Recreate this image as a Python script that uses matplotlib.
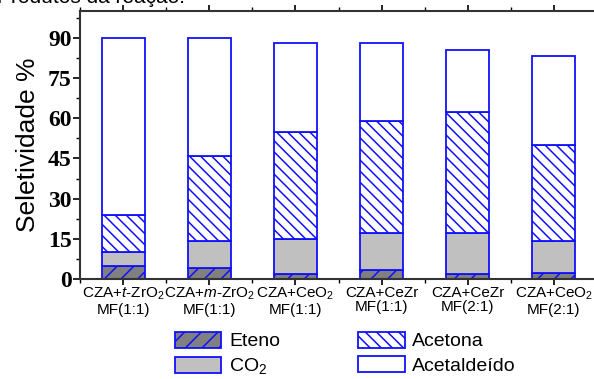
import matplotlib
matplotlib.use("Agg")
import matplotlib.pyplot as plt
from matplotlib.ticker import MultipleLocator
import numpy as np

# ── Data ─────────────────────────────────────────────────────────
categories = [
    "CZA+$t$-ZrO$_2$\nMF(1:1)",
    "CZA+$m$-ZrO$_2$\nMF(1:1)",
    "CZA+CeO$_2$\nMF(1:1)",
    "CZA+CeZr\nMF(1:1)",
    "CZA+CeZr\nMF(2:1)",
    "CZA+CeO$_2$\nMF(2:1)",
]
eteno       = [5.0, 4.0, 2.0, 3.3, 1.9, 2.1]
co2         = [5.0, 10.0, 13.0, 14.0, 15.4, 12.0]
acetona     = [14.0, 32.0, 40.0, 41.7, 45.0, 36.0]
acetaldeido = [66.0, 44.0, 33.0, 29.0, 23.0, 33.0]
yticks      = [0, 15, 30, 45, 60, 75, 90]

# ── Style ────────────────────────────────────────────────────────
BLUE = "#1010ff"
plt.rcParams.update({
    "font.family": "Liberation Sans",
    "mathtext.fontset": "custom",
    "mathtext.rm": "Liberation Sans",
    "mathtext.it": "Liberation Sans:italic",
    "hatch.linewidth": 1.1,
})

fig = plt.figure(figsize=(5.94, 3.79), dpi=100)
ax = fig.add_axes([80 / 594, 100 / 379, 517 / 594, 268 / 379])

x = np.arange(1, len(categories) + 1)
w = 0.5
bottom = np.zeros(len(x))
series = [
    (eteno,       "Eteno",       "#808080", "//"),
    (co2,         "CO$_2$",      "#c0c0c0", None),
    (acetona,     "Acetona",     "white",   "\\\\\\"),
    (acetaldeido, "Acetaldeído", "white",   None),
]
handles = []
for vals, lab, fc, hatch in series:
    b = ax.bar(x, vals, w, bottom=bottom, color=fc, edgecolor=BLUE,
               linewidth=1.3, hatch=hatch, label=lab)
    handles.append(b)
    bottom += np.array(vals)

ax.set_xlim(0.5, 6.5)
ax.set_ylim(0, 100)
ax.set_xticks(x)
ax.set_xticklabels(categories, fontsize=11, linespacing=1.05)
ax.xaxis.set_minor_locator(MultipleLocator(0.5))
ax.set_yticks(yticks)
ax.yaxis.set_minor_locator(MultipleLocator(7.5))
for t in ax.get_yticklabels():
    t.set_fontfamily("Liberation Serif")
    t.set_fontweight("bold")
    t.set_fontsize(17)

ax.tick_params(axis="y", which="major", direction="out", length=5, width=1.2, pad=1)
ax.tick_params(axis="y", which="minor", direction="out", length=3, width=1.0)
ax.tick_params(axis="x", which="major", direction="out", length=4, width=1.2,
               pad=1, top=True)
ax.tick_params(axis="x", which="minor", direction="out", length=3, width=1.0, top=True)

for side in ["left", "bottom", "top", "right"]:
    ax.spines[side].set_color("#333333")
    ax.spines[side].set_linewidth(1.5)

ax.set_ylabel("Seletividade %", fontsize=19, labelpad=6)

fig.legend(handles=handles,
           labels=["Eteno", "CO$_2$", "Acetona", "Acetaldeído"],
           ncol=2, loc="upper left", bbox_to_anchor=(165 / 594, 1 - 322 / 379),
           frameon=False, fontsize=14, borderpad=0, handlelength=2.4,
           handleheight=0.9, handletextpad=0.4, columnspacing=4.0,
           labelspacing=0.3)

fig.text(185 / 594, 1 - 3 / 379, "Produtos da reação:", fontsize=15,
         ha="right", va="baseline")

fig.savefig("out.png", dpi=100)
